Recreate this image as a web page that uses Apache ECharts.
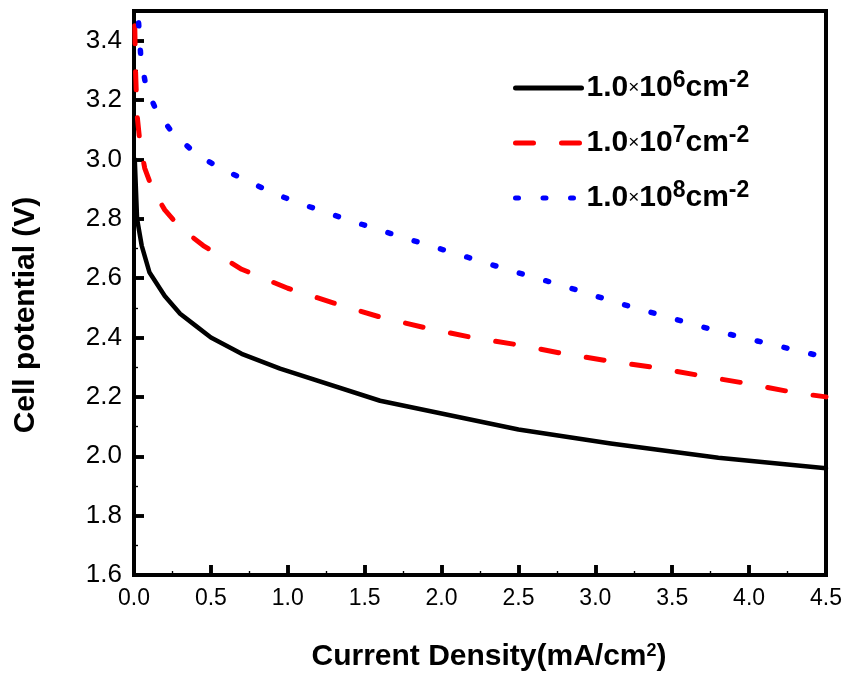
<!DOCTYPE html>
<html>
<head>
<meta charset="utf-8">
<script src="https://cdn.jsdelivr.net/npm/echarts@6/dist/echarts.min.js"></script>
<style>html,body{margin:0;padding:0;background:#fff}#c{width:850px;height:675px}</style>
</head>
<body>
<div id="c"></div>
<script>
// ---- data ----
var seriesNames = ['1.0×10^6', '1.0×10^7', '1.0×10^8'];
var xTitle = 'Current Density(mA/cm{sup|2})';
var yTitle = 'Cell potential (V)';
var xTicks = [0.0, 0.5, 1.0, 1.5, 2.0, 2.5, 3.0, 3.5, 4.0, 4.5];
var yTicks = [1.6, 1.8, 2.0, 2.2, 2.4, 2.6, 2.8, 3.0, 3.2, 3.4];
var s1e6 = [[0.005,3.0],[0.02,2.8],[0.05,2.71],[0.1,2.62],[0.2,2.54],[0.3,2.48],[0.4,2.44],[0.5,2.40],[0.7,2.345],[0.95,2.295],[1.6,2.187],[2.5,2.09],[3.1,2.043],[3.8,1.995],[4.5,1.96]];
var s1e7 = [[0.005,3.45],[0.01,3.3],[0.02,3.15],[0.04,3.05],[0.07,2.97],[0.12,2.90],[0.2,2.83],[0.3,2.77],[0.45,2.71],[0.7,2.63],[1.0,2.566],[1.3,2.516],[1.6,2.469],[1.9,2.432],[2.2,2.40],[2.5,2.375],[2.8,2.345],[3.1,2.32],[3.4,2.298],[3.7,2.27],[4.0,2.244],[4.3,2.214],[4.5,2.20]];
var s1e8 = [[0.03,3.46],[0.045,3.34],[0.08,3.24],[0.15,3.16],[0.25,3.09],[0.4,3.02],[0.56,2.97],[0.73,2.93],[0.89,2.89],[1.06,2.855],[1.4,2.795],[1.75,2.737],[2.11,2.68],[2.44,2.627],[2.8,2.573],[3.15,2.516],[3.49,2.466],[3.84,2.415],[4.2,2.37],[4.5,2.333]];

var chart = echarts.init(document.getElementById('c'));
function legendText(name) {
  var p = name.split('^');
  var base = p[0].split('×');
  return '{m|' + base[0] + '}{x|×}{m|' + base[1] + '}{s|' + p[1] + '}{m|cm}{s|-2}';
}
var F = 'Liberation Sans';
var tickOnly = {
  axisLine: {show: false},
  axisTick: {show: true, inside: true, length: 10, lineStyle: {color: '#000', width: 3.5}},
  minorTick: {show: true, splitNumber: 2, length: 4, lineStyle: {color: '#000', width: 1.2}},
  axisLabel: {show: false},
  splitLine: {show: false}
};
chart.setOption({
  animation: false,
  grid: {left: 134, right: 24, top: 11, bottom: 100, containLabel: false, outerBoundsMode: 'none',
    show: true, borderColor: '#000', borderWidth: 4, backgroundColor: 'transparent'},
  legend: {
    orient: 'vertical', left: 508, top: 64, itemWidth: 66, itemHeight: 10, itemGap: 21,
    data: seriesNames, formatter: legendText,
    itemStyle: {opacity: 0}, lineStyle: {width: 5},
    textStyle: {rich: {
      m: {fontFamily: F, fontWeight: 'bold', fontSize: 30, color: '#000', lineHeight: 38, verticalAlign: 'middle'},
      x: {fontFamily: F, fontSize: 19, color: '#000', lineHeight: 38, verticalAlign: 'middle'},
      s: {fontFamily: F, fontWeight: 'bold', fontSize: 23, color: '#000', lineHeight: 23, verticalAlign: 'top'}
    }}
  },
  graphic: [
    {type: 'text', x: 489, y: 657, z: 10,
      style: {text: xTitle, fontFamily: F, fontWeight: 'bold', fontSize: 30, fill: '#000', align: 'center', verticalAlign: 'middle',
        rich: {sup: {fontFamily: F, fontWeight: 'bold', fontSize: 18, fill: '#000', verticalAlign: 'top', lineHeight: 18}}}},
    {type: 'text', x: 26, y: 315, rotation: Math.PI / 2, z: 10,
      style: {text: yTitle, fontFamily: F, fontWeight: 'bold', fontSize: 30, fill: '#000', align: 'center', verticalAlign: 'middle'}}
  ],
  xAxis: [{
    type: 'value', min: 0, max: 4.5, interval: 0.5, position: 'bottom',
    axisLine: {show: true, onZero: false, lineStyle: {color: '#000', width: 4}},
    axisTick: {show: true, inside: true, length: 10, lineStyle: {color: '#000', width: 3.5}},
    minorTick: {show: true, splitNumber: 2, length: 4, lineStyle: {color: '#000', width: 1.2}},
    splitLine: {show: false},
    axisLabel: {margin: 12, fontFamily: F, fontSize: 23, color: '#000', formatter: function (v) { return v.toFixed(1); }}
  }, Object.assign({type: 'value', min: 0, max: 4.5, interval: 0.5, position: 'bottom', offset: 0}, tickOnly)],
  yAxis: [{
    type: 'value', min: 1.6, max: 3.5, interval: 0.2, position: 'left',
    axisLine: {show: true, onZero: false, lineStyle: {color: '#000', width: 4}},
    axisTick: {show: true, inside: true, length: 10, lineStyle: {color: '#000', width: 3.5}},
    minorTick: {show: true, splitNumber: 2, length: 4, lineStyle: {color: '#000', width: 1.2}},
    splitLine: {show: false},
    axisLabel: {margin: 12, fontFamily: F, fontSize: 26, color: '#000',
      formatter: function (v) { return v > 3.45 ? '' : v.toFixed(1); }}
  }, Object.assign({type: 'value', min: 1.6, max: 3.5, interval: 0.2, position: 'left', offset: 0}, tickOnly)],
  series: [
    {name: seriesNames[0], type: 'line', data: s1e6, showSymbol: false, symbol: 'none',
      lineStyle: {color: '#000', width: 4.5, cap: 'round', join: 'round'}, itemStyle: {color: '#000'}},
    {name: seriesNames[1], type: 'line', data: s1e7, showSymbol: false, symbol: 'none',
      lineStyle: {color: '#ff0000', width: 5, type: [18, 28], cap: 'round', join: 'round'}, itemStyle: {color: '#ff0000'}},
    {name: seriesNames[2], type: 'line', data: s1e8, showSymbol: false, symbol: 'none',
      lineStyle: {color: '#0000ff', width: 5.5, type: [3, 24.5], cap: 'round', join: 'round'}, itemStyle: {color: '#0000ff'}}
  ]
});
</script>
</body>
</html>
